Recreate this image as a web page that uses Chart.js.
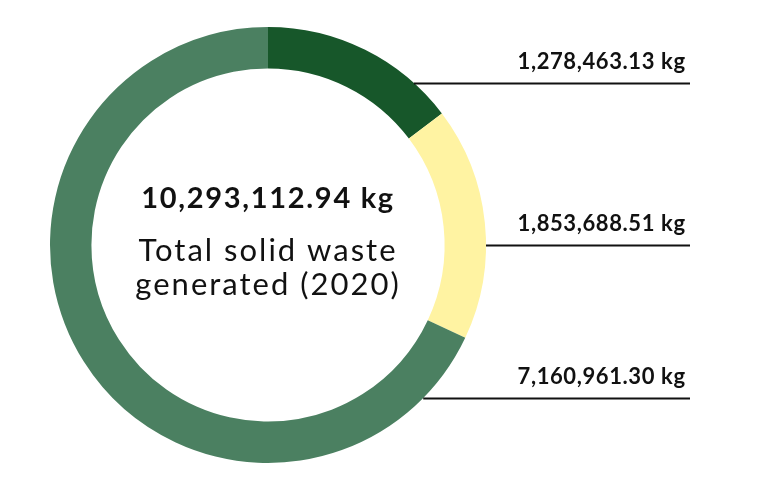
<!DOCTYPE html>
<html>
<head>
<meta charset="utf-8">
<script src="https://cdn.jsdelivr.net/npm/chart.js@4"></script>
<style>
    html, body { margin: 0; padding: 0; background: #ffffff; }
    #wrap { width: 768px; height: 490px; }
</style>
</head>
<body>
<div id="wrap"><canvas id="waste-chart"></canvas></div>
<script>
// =========================================================
// DATA
// =========================================================

    const categories = ["Category A", "Category B", "Category C"];
    // share of the ring each segment takes in the picture (percent)
    const arcShare = [14.7, 17.3, 68.0];
    const valueLabels = ["1,278,463.13 kg", "1,853,688.51 kg", "7,160,961.30 kg"];
    const totalLabel = "10,293,112.94 kg";
    const captionLines = ["Total solid waste", "generated (2020)"];
    const segmentColors = ["#17572a", "#fff3a2", "#4b8061"];

// =========================================================
// PLUGINS
// =========================================================

    // --- Center text --- //

    const centerTextPlugin = {
        id: "centerText",
        afterDraw(chart) {
            const ctx = chart.ctx;
            const arc = chart.getDatasetMeta(0).data[0];
            const cx = arc.x;
            const cy = arc.y;

            ctx.save();
            ctx.fillStyle = "#111111";
            ctx.textAlign = "center";
            ctx.textBaseline = "alphabetic";

            ctx.font = "bold 29px Lato";
            ctx.letterSpacing = "1.7px";
            ctx.fillText(totalLabel, cx, cy - 37);

            ctx.font = "31px Lato";
            ctx.letterSpacing = "2px";
            ctx.fillText(captionLines[0], cx, cy + 16);
            ctx.fillText(captionLines[1], cx, cy + 50);
            ctx.restore();
        }
    };

    // --- Leader lines with value labels --- //

    // angle (degrees from 12 o'clock) where each leader leaves the ring
    const leaderAngles = [42, 90, 134.6];

    const leaderPlugin = {
        id: "leaders",
        afterDraw(chart) {
            const ctx = chart.ctx;
            const arc = chart.getDatasetMeta(0).data[0];
            const endX = 690;

            ctx.save();
            for (let i = 0; i < valueLabels.length; i++) {
                const rad = leaderAngles[i] * Math.PI / 180;
                const startX = arc.x + arc.outerRadius * Math.sin(rad);
                const y = Math.round(arc.y - arc.outerRadius * Math.cos(rad)) + 0.5;

                ctx.strokeStyle = "#111111";
                ctx.lineWidth = 2;
                ctx.beginPath();
                ctx.moveTo(startX, y);
                ctx.lineTo(endX, y);
                ctx.stroke();

                ctx.fillStyle = "#111111";
                ctx.font = "bold 22px Lato";
                ctx.letterSpacing = "0.6px";
                ctx.textAlign = "right";
                ctx.textBaseline = "alphabetic";
                ctx.fillText(valueLabels[i], endX - 4.4, y - 15);
            }
            ctx.restore();
        }
    };

// =========================================================
// CHART
// =========================================================

    const canvas = document.getElementById("waste-chart");

    new Chart(canvas, {
        type: "doughnut",
        data: {
            labels: categories,
            datasets: [
                {
                    data: arcShare,
                    backgroundColor: segmentColors,
                    borderWidth: 0,
                    hoverOffset: 0
                }
            ]
        },
        options: {
            responsive: true,
            maintainAspectRatio: false,
            animation: false,
            cutout: "81%",
            layout: {
                padding: { left: 50, right: 282, top: 27, bottom: 27 }
            },
            plugins: {
                legend: { display: false },
                tooltip: { enabled: false }
            }
        },
        plugins: [centerTextPlugin, leaderPlugin]
    });
</script>
</body>
</html>
